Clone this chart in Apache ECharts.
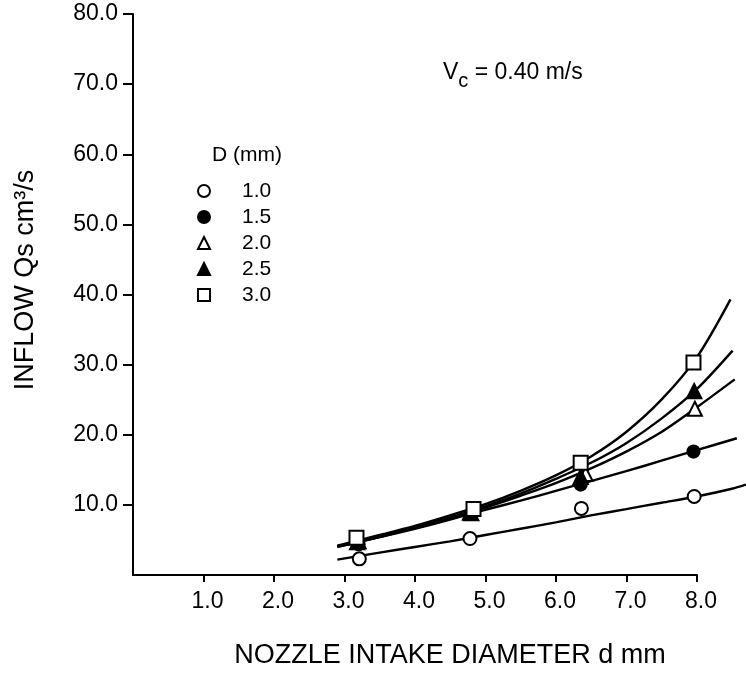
<!DOCTYPE html>
<html>
<head>
<meta charset="utf-8">
<script src="https://cdn.jsdelivr.net/npm/echarts@6/dist/echarts.min.js"></script>
<style>
html,body{margin:0;padding:0;background:#fff;}
#c{width:746px;height:674px;}
</style>
</head>
<body>
<div id="c"></div>
<script>
// ---- data ----
var xTicks = [1, 2, 3, 4, 5, 6, 7, 8];
var yTicks = [10, 20, 30, 40, 50, 60, 70, 80];
var seriesNames = ['1.0', '1.5', '2.0', '2.5', '3.0'];

// measured points (d mm, Qs cm3/s)
var p10x = [3.21, 4.78, 6.36, 7.96];
var p10y = [2.3, 5.2, 9.5, 11.2];
var p15x = [3.20, 4.80, 6.35, 7.95];
var p15y = [4.4, 8.7, 12.9, 17.6];
var p20x = [3.20, 4.80, 6.42, 7.97];
var p20y = [4.8, 8.8, 14.4, 23.7];
var p25x = [3.18, 4.78, 6.35, 7.96];
var p25y = [4.7, 8.9, 14.0, 26.2];
var p30x = [3.17, 4.83, 6.35, 7.95];
var p30y = [5.3, 9.4, 16.0, 30.3];

// fitted curves, values
var c10x = [2.9, 3.5, 4.0, 4.5, 5.0, 5.5, 6.0, 6.5, 7.0, 7.5, 8.0, 8.5, 8.7];
var c10y = [2.2, 3.2, 4.0, 4.8, 5.7, 6.6, 7.5, 8.5, 9.4, 10.3, 11.2, 12.3, 12.9];
var c15x = [2.9, 3.5, 4.0, 4.5, 5.0, 5.5, 6.0, 6.5, 7.0, 7.5, 8.0, 8.57];
var c15y = [4.0, 5.4, 6.6, 7.9, 9.3, 10.6, 12.0, 13.4, 14.8, 16.3, 17.8, 19.5];
var c20x = [2.9, 3.5, 4.0, 4.5, 5.0, 5.5, 6.0, 6.5, 7.0, 7.5, 8.0, 8.54];
var c20y = [4.0, 5.4, 6.7, 8.0, 9.6, 11.3, 13.1, 15.2, 17.6, 20.4, 23.9, 27.9];
var c25x = [2.9, 3.5, 4.0, 4.5, 5.0, 5.5, 6.0, 6.5, 7.0, 7.5, 8.0, 8.51];
var c25y = [4.1, 5.5, 6.8, 8.2, 9.8, 11.6, 13.7, 16.0, 18.8, 22.3, 26.5, 32.0];
var c30x = [2.9, 3.5, 4.0, 4.5, 5.0, 5.5, 6.0, 6.5, 7.0, 7.5, 8.0, 8.48];
var c30y = [4.2, 5.7, 7.0, 8.5, 10.1, 12.0, 14.2, 16.9, 20.4, 25.0, 31.0, 39.3];

function zip(xs, ys) { return xs.map(function (x, i) { return [x, ys[i]]; }); }

var FONT = '"Liberation Sans", Arial, Helvetica, sans-serif';
var points = [[p10x, p10y, 'emptyCircle', 13], [p15x, p15y, 'circle', 12], [p20x, p20y, 'emptyTriangle', 14],
              [p25x, p25y, 'triangle', 14], [p30x, p30y, 'emptyRect', 14]];
var curves = [[c10x, c10y], [c15x, c15y], [c20x, c20y], [c25x, c25y], [c30x, c30y]];

var series = [];
curves.forEach(function (c) {
  series.push({
    type: 'line', xAxisIndex: 1, yAxisIndex: 1, data: zip(c[0], c[1]), smooth: 0.3,
    showSymbol: false, symbol: 'none', silent: true, z: 2,
    lineStyle: { color: '#000', width: 2.4 }
  });
});
points.forEach(function (p, i) {
  series.push({
    type: 'scatter', name: seriesNames[i], xAxisIndex: 0, yAxisIndex: 0,
    data: zip(p[0], p[1]), symbol: p[2], symbolSize: p[3],
    z: 5, itemStyle: { color: '#000', borderColor: '#000', borderWidth: 2.2, opacity: 1 }
  });
});

var chart = echarts.init(document.getElementById('c'), null, { renderer: 'canvas' });
chart.setOption({
  animation: false,
  backgroundColor: '#fff',
  grid: [
    { left: 133, right: 49, top: 14, bottom: 99 },
    { left: 133, right: 0, top: 14, bottom: 99 }
  ],
  xAxis: [{
    type: 'value', gridIndex: 0, min: 0, max: 8, interval: 1,
    axisLine: { lineStyle: { color: '#000', width: 2 } },
    axisTick: { show: true, inside: false, length: 7, lineStyle: { color: '#000', width: 2 },
      customValues: xTicks },
    axisLabel: { color: '#000', fontFamily: FONT, fontSize: 23, margin: 15, padding: [0, 0, 0, 8],
      customValues: xTicks, formatter: function (v) { return v.toFixed(1); } },
    splitLine: { show: false }
  }, {
    type: 'value', gridIndex: 1, min: 0, max: 8.7, show: false, splitLine: { show: false }
  }],
  yAxis: [{
    type: 'value', gridIndex: 0, min: 0, max: 80, interval: 10,
    axisLine: { lineStyle: { color: '#000', width: 2 } },
    axisTick: { show: true, inside: false, length: 10, lineStyle: { color: '#000', width: 2 },
      customValues: yTicks },
    axisLabel: { color: '#000', fontFamily: FONT, fontSize: 23, margin: 15,
      customValues: yTicks, formatter: function (v) { return v.toFixed(1); } },
    splitLine: { show: false }
  }, {
    type: 'value', gridIndex: 1, min: 0, max: 80, show: false, splitLine: { show: false }
  }],
  legend: {
    data: seriesNames, orient: 'vertical', left: 192, top: 175,
    itemWidth: 12, itemHeight: 12, itemGap: 4,
    textStyle: { color: '#000', fontFamily: FONT, fontSize: 21, lineHeight: 22,
      rich: { g: { width: 27 } } },
    formatter: function (n) { return '{g|}' + n; },
    selectedMode: false
  },
  graphic: [
    { type: 'text', left: 212, top: 145, style: { text: 'D (mm)', font: '21px ' + FONT, fill: '#000' } },
    { type: 'text', left: 443, top: 55, style: {
        text: '{v|V}{s|c}{v| = 0.40 m/s}', fill: '#000',
        rich: { v: { fontSize: 23, fontFamily: FONT, lineHeight: 28 },
                s: { fontSize: 20, fontFamily: FONT, padding: [16, 0, 0, 0], lineHeight: 28 } } } },
    { type: 'text', x: 450, y: 656, style: { text: 'NOZZLE INTAKE DIAMETER d mm', font: '27px ' + FONT,
        fill: '#000', textAlign: 'center', textVerticalAlign: 'middle' } },
    { type: 'text', x: 26, y: 280, rotation: Math.PI / 2, style: { text: 'INFLOW Qs cm³/s', font: '27px ' + FONT,
        fill: '#000', textAlign: 'center', textVerticalAlign: 'middle' } }
  ],
  series: series
});
</script>
</body>
</html>
